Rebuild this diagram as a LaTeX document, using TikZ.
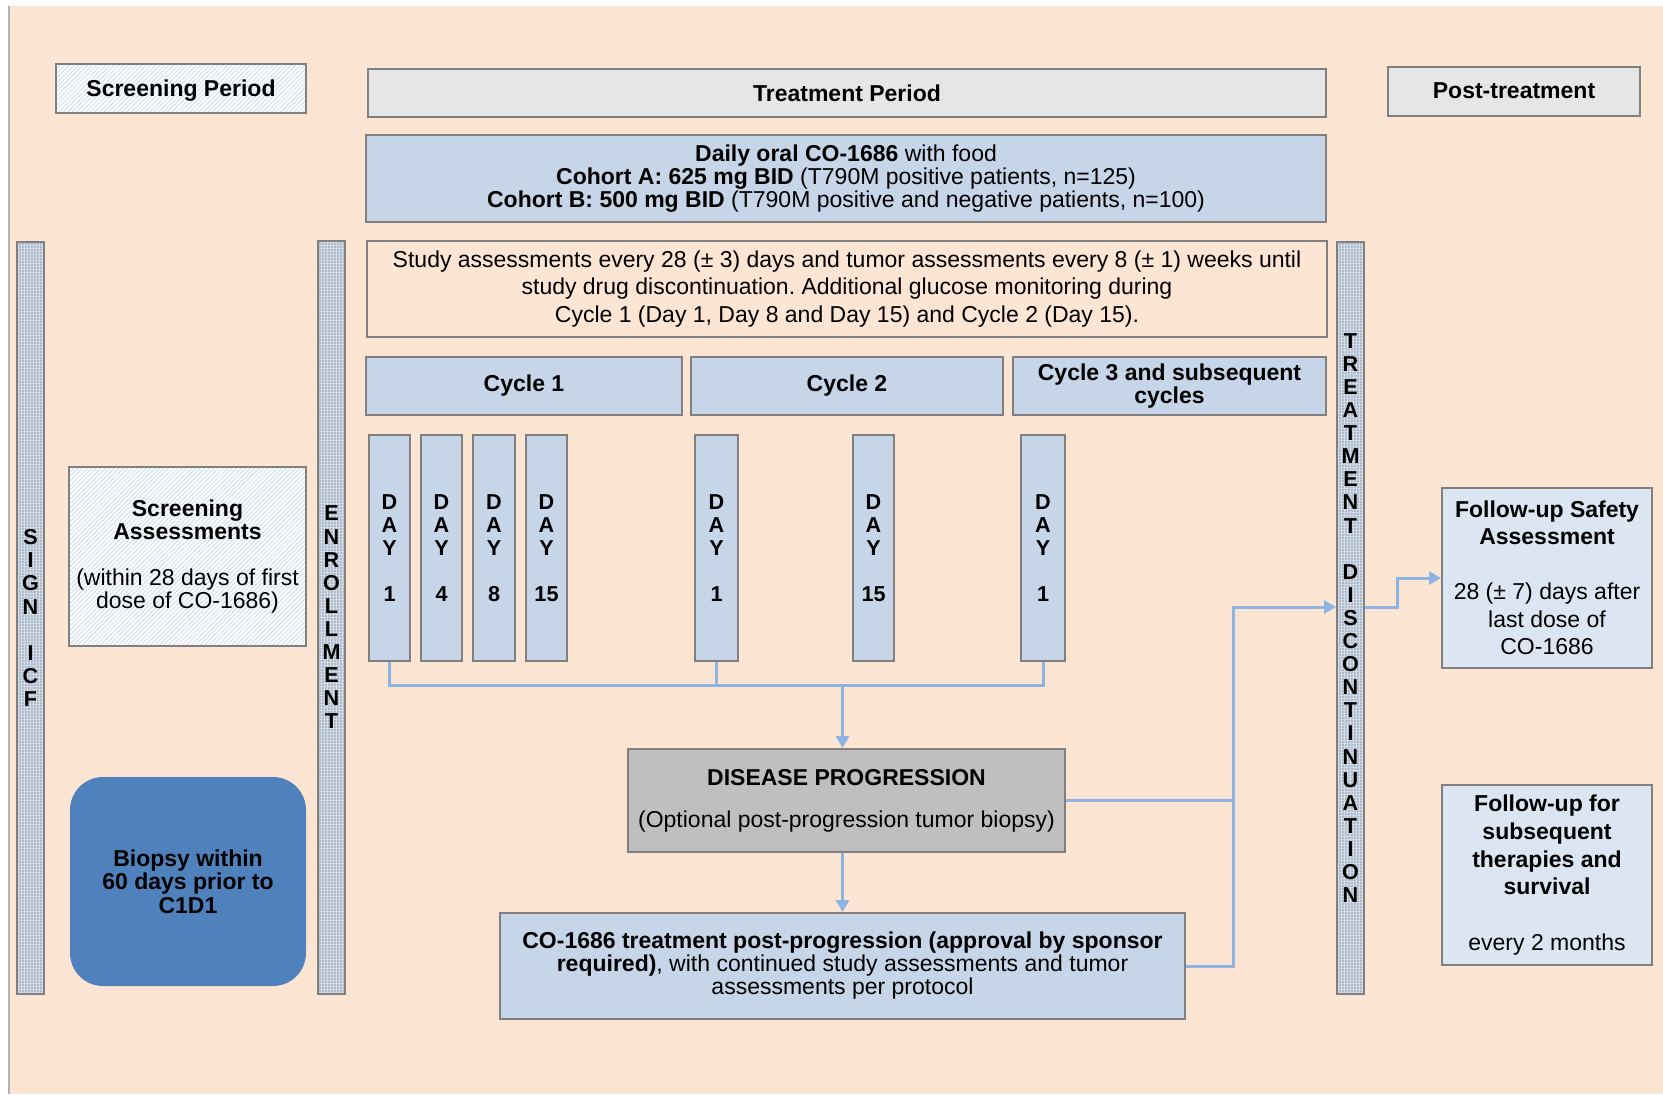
\documentclass[tikz,border=0pt]{standalone}
\usepackage{fontspec}
\setmainfont{Liberation Sans}
\usetikzlibrary{patterns,patterns.meta,arrows.meta}
\definecolor{peach}{HTML}{FDE5D4}
\definecolor{bgray}{HTML}{808080}
\definecolor{boxblue}{HTML}{C6D5E8}
\definecolor{paleblue}{HTML}{DCE6F2}
\definecolor{lgray}{HTML}{E6E6E6}
\definecolor{dpgray}{HTML}{BFBFBF}
\definecolor{conblue}{HTML}{8DB4E2}
\definecolor{biopsyblue}{HTML}{4F81BD}
\definecolor{hatchblue}{HTML}{D3DFEE}
\definecolor{barbase}{HTML}{B2B9C3}
\definecolor{gridblue}{HTML}{D0DDEE}
\newcommand\mainfs{\fontsize{11.5}{13.8}\selectfont}
\newcommand\vertfs{\fontsize{10.8}{11.55}\selectfont\bfseries}
\frenchspacing
\begin{document}
\begin{tikzpicture}[x=0.5pt,y=-0.5pt,
 rc/.style n args={4}{at={({(#1+#3)/2},{(#2+#4)/2})},minimum width={(#3-#1)*0.5pt},minimum height={(#4-#2)*0.5pt}},
 box/.style={draw=bgray,line width=1pt,inner sep=0pt,align=center,font=\mainfs},
 hatched/.style={box,pattern={Lines[angle=45,distance=1.6pt,line width=0.5pt]},pattern color=hatchblue,preaction={fill=white}},
 bar/.style={box,pattern={Hatch[distance=1.5pt,line width=0.35pt]},pattern color=gridblue,preaction={fill=barbase},font=\vertfs},
 dayb/.style={box,fill=boxblue,font=\vertfs},
 conn/.style={draw=conblue,line width=1.5pt},
 arr/.style={-{Triangle[length=6pt,width=6.5pt]}},
]
\useasboundingbox (0,0) rectangle (1663,1094);
\fill[white] (0,0) rectangle (1663,1094);
\fill[peach] (9,6) rectangle (1663,1094);
\draw[black!30,line width=0.6pt] (9,6) -- (9,1094);

% headers
\node[hatched,rc={56}{64}{306}{113},text depth=-1.5pt] (scrp) {\textbf{Screening Period}};
\node[box,fill=lgray,rc={368}{69}{1326}{117}] (trp) {\textbf{Treatment Period}};
\node[box,fill=lgray,rc={1388}{67}{1640}{116},text depth=1pt] (postt) {\textbf{Post-treatment}};

% treatment info
\node[box,fill=boxblue,font=\fontsize{11.5}{11.7}\selectfont,rc={366}{135}{1326}{222}] (daily)
 {\textbf{Daily oral CO-1686} with food\\\textbf{Cohort A: 625 mg BID} (T790M positive patients, n=125)\\\textbf{Cohort B: 500 mg BID} (T790M positive and negative patients, n=100)};
\node[box,rc={367}{241}{1327}{337}] (study)
 {Study assessments every 28 (± 3) days and tumor assessments every 8 (± 1) weeks until\\study drug discontinuation. Additional glucose monitoring during\\Cycle 1 (Day 1, Day 8 and Day 15) and Cycle 2 (Day 15).};

% cycles
\node[box,fill=boxblue,rc={366}{357}{682}{415}] (cyc1) {\textbf{Cycle 1}};
\node[box,fill=boxblue,rc={691}{357}{1003}{415}] (cyc2) {\textbf{Cycle 2}};
\node[box,fill=boxblue,font=\fontsize{11.5}{11.5}\selectfont,rc={1013}{357}{1326}{415}] (cyc3) {\textbf{Cycle 3 and subsequent}\\\textbf{cycles}};

% days
\node[dayb,rc={369}{435}{410}{661}] (c1d1) {D\\A\\Y\\~\\1};
\node[dayb,rc={421}{435}{462}{661}] (c1d4) {D\\A\\Y\\~\\4};
\node[dayb,rc={473}{435}{515}{661}] (c1d8) {D\\A\\Y\\~\\8};
\node[dayb,rc={526}{435}{567}{661}] (c1d15) {D\\A\\Y\\~\\15};
\node[dayb,rc={695}{435}{738}{661}] (c2d1) {D\\A\\Y\\~\\1};
\node[dayb,rc={853}{435}{894}{661}] (c2d15) {D\\A\\Y\\~\\15};
\node[dayb,rc={1021}{435}{1065}{661}] (c3d1) {D\\A\\Y\\~\\1};

% vertical bars
\node[bar,rc={17}{242}{44}{994}] (icf) {S\\I\\G\\N\\~\\I\\C\\F};
\node[bar,rc={318}{241}{345}{994}] (enr) {E\\N\\R\\O\\L\\L\\M\\E\\N\\T};
\node[bar,rc={1337}{242}{1364}{994}] (td) {T\\R\\E\\A\\T\\M\\E\\N\\T\\~\\D\\I\\S\\C\\O\\N\\T\\I\\N\\U\\A\\T\\I\\O\\N};

% screening
\node[hatched,font=\fontsize{11.5}{11.8}\selectfont,rc={69}{467}{306}{646}] (scra)
 {\textbf{Screening}\\\textbf{Assessments}\\[11pt](within 28 days of first\\dose of CO-1686)};
\node[fill=biopsyblue,rounded corners=16.5pt,inner sep=0pt,align=center,font=\fontsize{11.5}{11.7}\selectfont,rc={70}{777}{306}{986}] (biop)
 {\textbf{Biopsy within}\\\textbf{60 days prior to}\\\textbf{C1D1}};

% progression
\node[box,fill=dpgray,rc={628}{749}{1065}{852}] (dp)
 {\textbf{DISEASE PROGRESSION}\\[7.2pt](Optional post-progression tumor biopsy)};
\node[box,fill=boxblue,font=\fontsize{11.5}{11.5}\selectfont,rc={500}{913}{1185}{1019}] (low)
 {\textbf{CO-1686 treatment post-progression (approval by sponsor}\\\textbf{required)}, with continued study assessments and tumor\\assessments per protocol};

% post-treatment
\node[box,fill=paleblue,font=\fontsize{11.5}{13.75}\selectfont,rc={1442}{488}{1652}{668}] (fs)
 {\textbf{Follow-up Safety}\\\textbf{Assessment}\\~\\28 (± 7) days after\\last dose of\\CO-1686};
\node[box,fill=paleblue,font=\fontsize{11.5}{13.9}\selectfont,rc={1442}{785}{1652}{965}] (fsub)
 {\textbf{Follow-up for}\\\textbf{subsequent}\\\textbf{therapies and}\\\textbf{survival}\\~\\every 2 months};

% connectors
\coordinate (hy) at (0,685);
\draw[conn] (c1d1.south) -- (c1d1.south |- hy) -- (c3d1.south |- hy) -- (c3d1.south);
\draw[conn] (c2d1.south) -- (c2d1.south |- hy);
\draw[conn,arr] (low.north |- hy) -- (low.north |- dp.north);
\draw[conn,arr] (low.north |- dp.south) -- (low.north);
\coordinate (vx) at (1233,0);
\coordinate (tdin) at (1337,607);
\draw[conn] (dp.east) -- (dp.east -| vx);
\draw[conn,arr] (low.east) -| (vx |- tdin) -- (td.west |- tdin);
\coordinate (tdout) at (1397,607);
\draw[conn,arr] (td.east |- tdout) -- (tdout) |- (fs.west);
\end{tikzpicture}
\end{document}
